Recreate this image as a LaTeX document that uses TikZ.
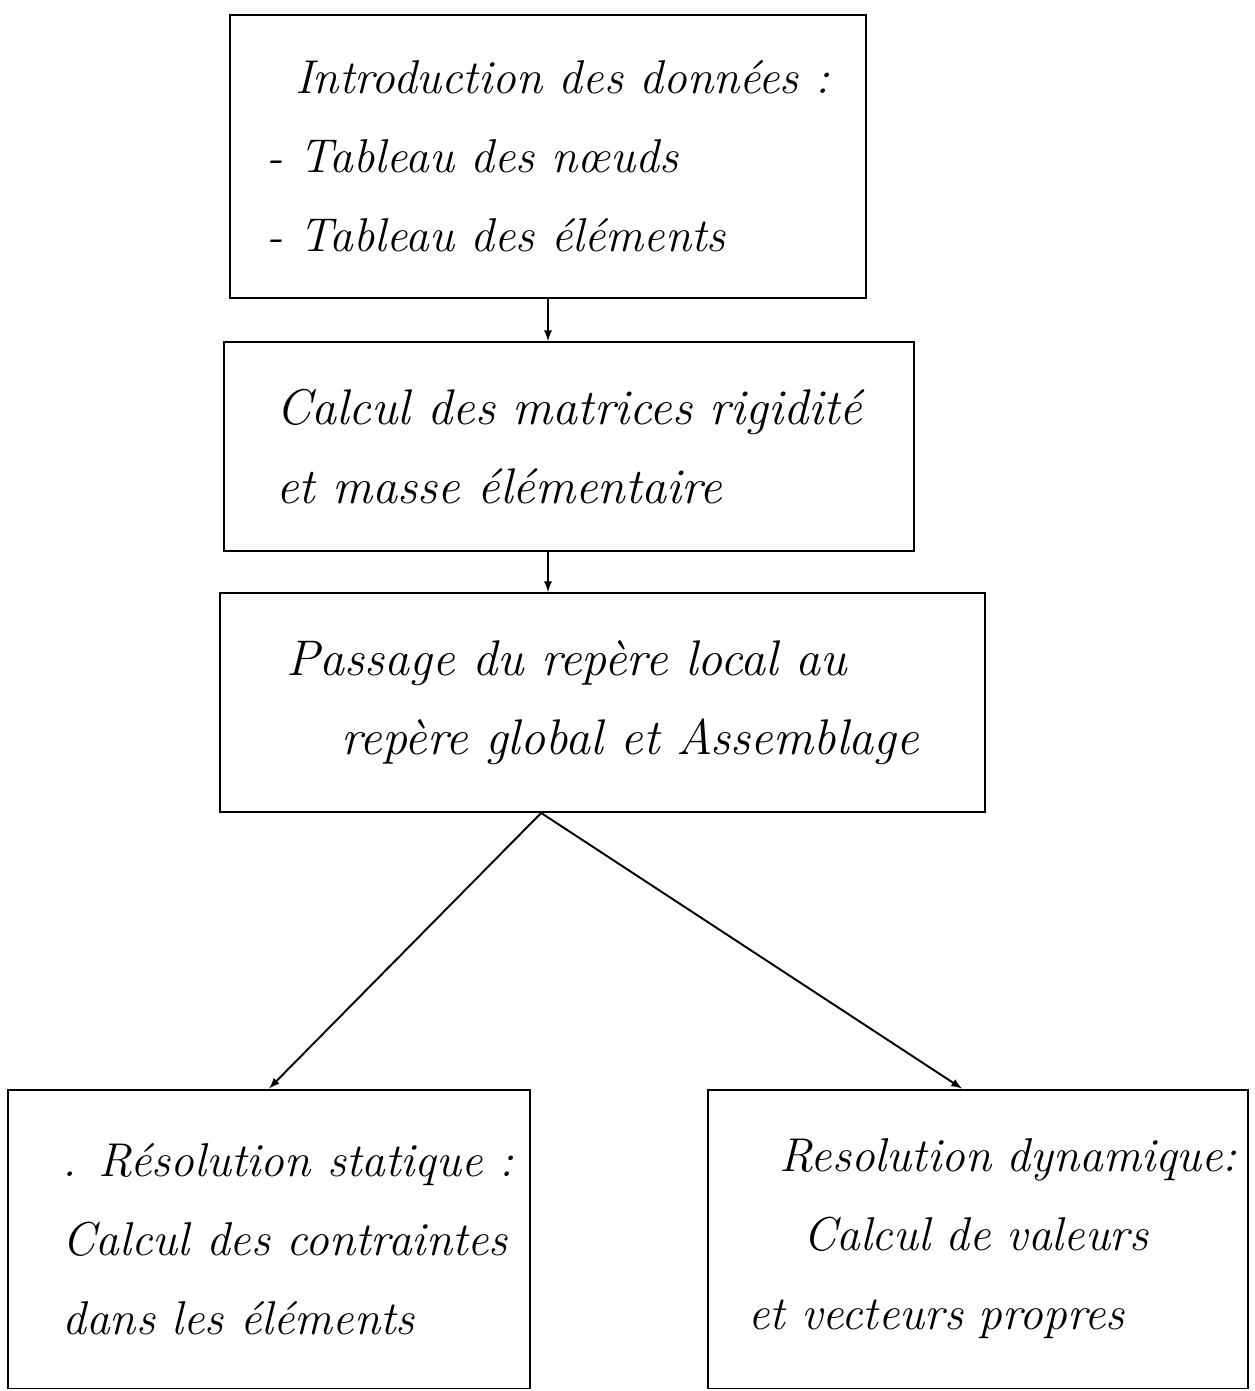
\documentclass[tikz,border=0pt]{standalone}
\usepackage{amsmath,amssymb}
\usepackage{tikz}
\usetikzlibrary{arrows,calc,positioning}

\tikzset{
  etape/.style={draw,line width=1.1pt,align=left,inner sep=0pt,
    font=\fontsize{27}{45}\selectfont\itshape},
  fleche/.style={->,>=latex,line width=1.1pt}
}

\begin{document}
\begin{tikzpicture}[x=0.02cm,y=-0.02cm]
    \useasboundingbox (0,0) rectangle (1254,1391);

    % boites
    \node (intro) [etape,minimum width=12.72cm,minimum height=5.66cm] at (548,156.5)
      {\hspace*{0.6em}Introduction des données :\\- Tableau des n\oe uds\\- Tableau des éléments};
    \node (calcul) [etape,minimum width=13.8cm,minimum height=4.18cm,
      font=\fontsize{28.5}{45}\selectfont\itshape] at (569,446.5)
      {Calcul des matrices rigidité\\et masse élémentaire};
    \node (passage) [etape,minimum width=15.3cm,minimum height=4.38cm,
      font=\fontsize{28.5}{45}\selectfont\itshape] at (602.5,702.5)
      {Passage du repère local au\\\hspace*{1.1em}repère global et Assemblage};
    \node (statique) [etape,minimum width=10.44cm,minimum height=5.98cm] at (269,1239)
      {\hspace*{0.8em}. Résolution statique :\\\hspace*{0.8em}Calcul des contraintes\\\hspace*{0.8em}dans les éléments};
    \node (dynamique) [etape,minimum width=10.8cm,minimum height=5.98cm,text width=10.6cm] at (978,1239)
      {\hspace*{1.4em}Resolution dynamique:\\\hspace*{1.9em}Calcul de valeurs\\\hspace*{0.75em}et vecteurs propres};

    \coordinate (depart) at ($(passage.south west)!0.42!(passage.south east)$);

    % fleches
    \draw[fleche] (intro.south) -- (intro.south |- calcul.north);
    \draw[fleche] (calcul.south -| intro.south) -- (passage.north -| intro.south);
    \draw[fleche] (depart) -- (statique.north);
    \draw[fleche] (depart) -- ([xshift=-0.32cm]dynamique.north);

  \end{tikzpicture}
\end{document}
